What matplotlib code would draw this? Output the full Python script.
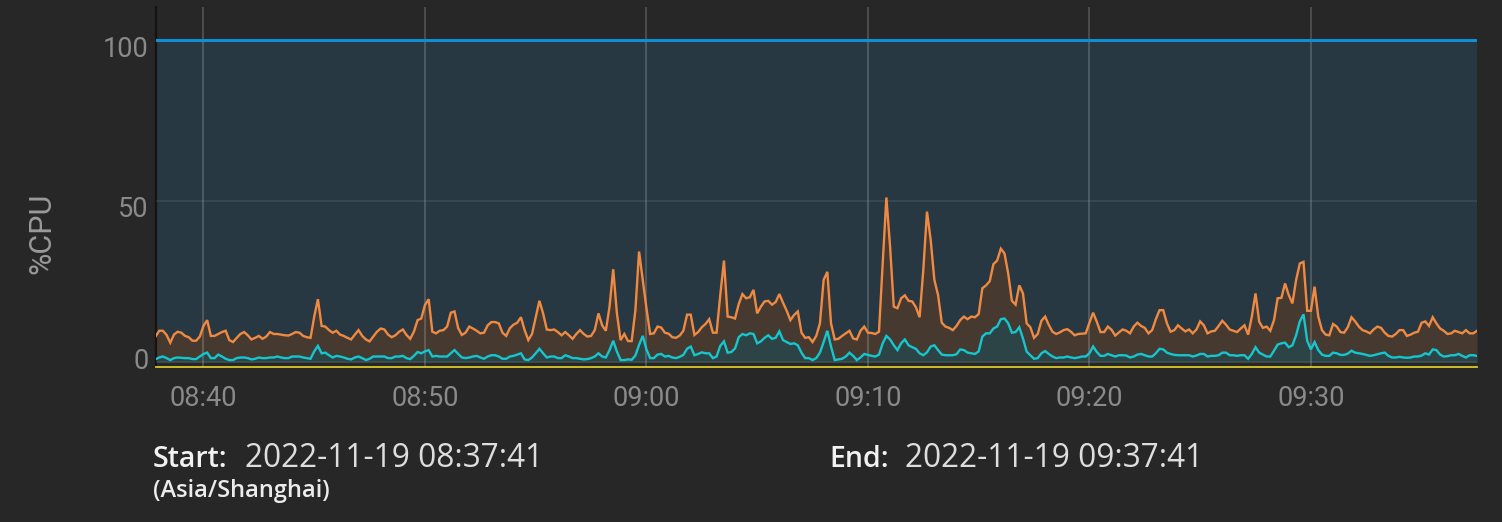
import numpy as np
import pandas as pd
import matplotlib
matplotlib.use("Agg")
import matplotlib.pyplot as plt
import matplotlib.dates as mdates
import matplotlib.transforms as mtransforms

# ---------------- data ----------------
start_time = "2022-11-19 08:37:50"
sample_step = "10s"

orange_cpu = [
    7.9, 9.7, 9.7, 8.4, 6.0, 8.5, 9.4, 9.1, 8.1, 7.7,
    6.6, 6.6, 7.9, 11.2, 13.0, 8.1, 8.1, 8.7, 9.3, 9.7,
    6.8, 6.2, 7.5, 8.7, 9.3, 8.3, 7.0, 7.5, 8.1, 7.2,
    7.9, 9.3, 8.7, 8.7, 8.5, 8.3, 8.2, 8.7, 9.3, 9.1,
    8.1, 7.7, 7.5, 14.1, 19.5, 11.2, 11.0, 9.9, 9.1, 9.7,
    8.5, 8.1, 7.5, 7.0, 8.5, 9.9, 8.1, 7.0, 6.4, 7.9,
    9.4, 10.4, 10.1, 8.5, 7.7, 8.3, 9.4, 10.1, 8.4, 7.2,
    9.4, 13.0, 13.5, 17.7, 19.5, 9.4, 8.9, 9.7, 9.9, 11.0,
    15.3, 15.7, 10.5, 8.4, 9.1, 11.0, 10.4, 9.7, 8.9, 9.1,
    11.4, 12.4, 12.4, 12.0, 9.1, 8.1, 10.5, 11.6, 12.2, 13.9,
    9.9, 6.8, 8.7, 13.9, 19.0, 15.1, 10.1, 9.9, 10.1, 9.3,
    8.3, 9.3, 8.3, 7.2, 8.7, 9.9, 8.7, 7.9, 8.1, 9.9,
    15.1, 11.4, 9.7, 17.2, 28.8, 15.1, 6.8, 8.7, 6.5, 6.5,
    16.0, 34.3, 25.5, 16.7, 8.7, 8.9, 11.0, 10.7, 9.1, 8.8,
    7.7, 7.5, 8.2, 9.7, 14.7, 14.7, 8.4, 9.3, 10.8, 11.8,
    13.3, 9.1, 9.1, 20.8, 31.5, 14.1, 13.9, 13.5, 18.0, 21.1,
    19.8, 20.1, 22.4, 15.1, 17.2, 18.8, 19.0, 17.8, 18.6, 21.1,
    18.4, 15.9, 13.0, 14.6, 15.7, 9.1, 7.5, 7.7, 6.2, 8.1,
    12.0, 25.5, 28.0, 12.0, 7.0, 7.2, 8.1, 8.9, 9.7, 7.3,
    7.0, 9.7, 11.0, 9.1, 9.0, 8.7, 9.4, 30.6, 51.1, 35.8,
    17.2, 16.7, 19.8, 20.7, 19.0, 18.8, 17.0, 13.9, 28.6, 46.7,
    37.9, 25.5, 20.8, 12.2, 11.0, 10.6, 9.9, 11.2, 13.0, 14.1,
    13.3, 14.1, 13.9, 14.9, 22.9, 23.8, 25.1, 30.4, 31.5, 35.2,
    33.7, 27.5, 19.0, 17.8, 23.8, 21.3, 12.0, 10.8, 7.5, 8.7,
    12.8, 14.1, 11.5, 9.4, 8.7, 9.2, 9.9, 10.2, 9.4, 8.3,
    8.7, 8.8, 8.9, 12.2, 15.3, 12.5, 9.3, 9.3, 11.0, 10.0,
    8.2, 9.2, 10.1, 9.7, 8.9, 11.0, 12.2, 11.2, 10.6, 8.9,
    9.9, 13.3, 16.1, 16.1, 12.0, 9.4, 9.9, 11.4, 10.4, 9.5,
    10.1, 8.9, 10.1, 12.6, 11.4, 8.9, 9.5, 9.7, 11.2, 12.8,
    11.6, 10.1, 9.7, 9.3, 10.4, 11.4, 8.5, 14.1, 21.3, 12.5,
    10.6, 11.0, 9.7, 13.0, 19.8, 19.9, 24.4, 20.8, 18.2, 25.5,
    30.6, 31.1, 15.9, 15.9, 23.4, 14.1, 9.9, 8.5, 8.3, 11.8,
    11.0, 9.3, 9.1, 10.8, 13.9, 12.6, 11.0, 9.9, 9.5, 8.9,
    10.1, 11.0, 10.6, 9.1, 8.1, 7.9, 8.7, 9.9, 9.9, 8.1,
    8.5, 9.1, 9.4, 12.2, 12.6, 11.2, 13.9, 12.0, 10.4, 9.7,
    8.7, 8.9, 9.7, 9.3, 8.9, 9.9, 8.9, 8.9, 9.7,
]

cyan_cpu = [
    0.8, 1.4, 1.7, 1.2, 0.6, 1.2, 1.4, 1.3, 1.2, 1.2,
    0.9, 0.9, 1.7, 2.5, 2.9, 1.2, 1.2, 2.3, 1.7, 1.0,
    0.6, 0.6, 1.2, 1.4, 1.4, 1.2, 0.8, 1.0, 1.4, 1.2,
    1.2, 1.4, 1.4, 1.7, 1.4, 1.2, 1.2, 1.7, 1.7, 1.7,
    1.4, 1.2, 1.0, 3.3, 5.0, 2.7, 2.9, 2.1, 1.4, 1.9,
    1.7, 1.4, 1.0, 0.8, 1.4, 1.7, 1.2, 0.6, 1.0, 1.7,
    1.7, 1.7, 1.7, 1.2, 1.2, 1.7, 1.7, 1.9, 1.2, 0.9,
    1.9, 3.1, 2.7, 3.3, 3.7, 1.7, 1.9, 1.7, 1.7, 1.7,
    2.7, 3.7, 2.5, 1.4, 1.2, 1.4, 1.7, 1.9, 1.4, 1.0,
    1.7, 2.1, 2.1, 1.7, 1.0, 1.0, 1.7, 1.9, 2.3, 2.7,
    0.8, 0.6, 1.4, 2.7, 4.1, 2.7, 1.4, 1.7, 1.7, 1.2,
    1.2, 2.1, 1.7, 1.2, 1.2, 1.0, 0.8, 0.9, 1.2, 1.7,
    2.7, 1.7, 1.4, 3.7, 6.6, 3.2, 0.6, 0.6, 0.8, 0.7,
    2.0, 5.3, 8.1, 3.9, 1.2, 1.2, 2.3, 2.5, 1.7, 1.9,
    1.4, 1.2, 1.6, 2.2, 4.1, 4.8, 2.1, 2.5, 3.0, 2.7,
    2.7, 1.2, 1.7, 5.0, 6.4, 2.9, 3.1, 4.2, 7.7, 8.7,
    8.3, 8.9, 8.7, 5.8, 6.4, 7.5, 8.3, 7.2, 7.5, 9.5,
    6.8, 6.2, 5.6, 5.8, 5.2, 2.9, 1.2, 1.2, 0.6, 1.2,
    2.9, 6.2, 9.7, 4.8, 0.6, 0.8, 1.0, 1.7, 2.9, 1.9,
    0.6, 1.4, 2.5, 2.2, 1.9, 1.7, 2.3, 5.8, 8.1, 7.0,
    5.2, 3.7, 5.8, 7.0, 5.2, 4.6, 4.1, 2.7, 2.1, 3.0,
    4.8, 5.2, 3.7, 2.3, 2.1, 2.1, 2.1, 2.4, 3.9, 3.7,
    2.9, 2.7, 2.5, 3.3, 7.9, 8.9, 8.9, 10.4, 11.0, 13.3,
    13.5, 12.0, 9.1, 9.3, 10.8, 7.3, 3.2, 2.1, 1.0, 1.2,
    2.7, 3.4, 2.5, 1.7, 1.2, 1.4, 1.4, 1.7, 1.4, 1.2,
    1.4, 1.7, 1.7, 2.7, 4.8, 3.1, 1.9, 1.9, 2.5, 2.1,
    1.7, 2.1, 2.1, 2.0, 1.4, 1.7, 2.3, 2.5, 2.1, 1.7,
    1.7, 2.7, 4.1, 3.9, 2.9, 2.5, 2.2, 2.1, 2.1, 2.1,
    2.1, 1.7, 2.0, 2.5, 2.5, 1.7, 1.9, 1.9, 2.1, 2.9,
    2.9, 2.1, 2.1, 1.9, 2.1, 2.1, 1.0, 2.5, 4.6, 2.9,
    2.3, 1.7, 1.7, 3.5, 5.4, 5.8, 6.0, 4.6, 5.2, 8.3,
    12.6, 14.8, 6.6, 3.9, 6.2, 3.7, 2.3, 1.9, 1.9, 2.9,
    2.7, 2.2, 2.2, 2.6, 3.5, 2.9, 2.7, 2.5, 2.2, 1.9,
    2.1, 2.4, 2.7, 2.9, 1.9, 1.4, 1.4, 1.6, 1.4, 1.3,
    1.4, 1.7, 1.7, 2.0, 2.7, 2.3, 3.9, 3.7, 2.3, 1.7,
    1.8, 2.1, 2.1, 2.5, 1.9, 1.4, 2.1, 2.1, 1.9,
]

capacity_pct = 100.0
y_ticks = [0, 50, 100]
start_label = "2022-11-19 08:37:41"
end_label = "2022-11-19 09:37:41"
tz_label = "(Asia/Shanghai)"
y_label = "%CPU"

# ---------------- figure ----------------
BG = "#272727"
PLOT_BG = "#283842"
W, H = 1502, 522
fig = plt.figure(figsize=(W / 100, H / 100), dpi=100, facecolor=BG)

def fx(px):
    return px / W

def fy(py):
    return 1 - py / H

ax_left, ax_right, ax_top, ax_bot = 155.5, 1477, 7, 366.5
ax = fig.add_axes([fx(ax_left), fy(ax_bot), fx(ax_right - ax_left), (ax_bot - ax_top) / H])
ax.set_facecolor(BG)

times = pd.date_range(start_time, periods=len(orange_cpu), freq=sample_step)
orange = np.array(orange_cpu)
cyan = np.array(cyan_cpu)
capacity = np.full(len(times), capacity_pct)

ax.fill_between(times, 0, capacity, color=PLOT_BG, lw=0, zorder=1)
ax.fill_between(times, 0, orange, color="#463a30", lw=0, zorder=1.2)
ax.fill_between(times, 0, cyan, color="#2c4446", lw=0, zorder=1.4)
ax.plot(times, capacity, color="#0f8fd6", lw=2.2, zorder=3)
ax.plot(times, orange, color="#f08a42", lw=1.7, zorder=3, solid_joinstyle="miter")
ax.plot(times, cyan, color="#16c6cf", lw=1.7, zorder=3, solid_joinstyle="miter")

ax.set_xlim(times[0], times[-1])
ax.set_ylim(-1.4, 110.25)

ax.xaxis.set_major_locator(mdates.MinuteLocator(byminute=range(0, 60, 10)))
ax.xaxis.set_major_formatter(mdates.DateFormatter("%H:%M"))
ax.set_yticks(y_ticks)
ax.set_yticklabels([])

ax.set_axisbelow(False)
ax.xaxis.grid(True, color="white", alpha=0.17, lw=1.5, zorder=2)
ax.yaxis.grid(True, color="white", alpha=0.07, lw=1.5, zorder=2)

ax.tick_params(axis="both", length=0)
ax.tick_params(axis="x", pad=13, labelsize=19.5, labelcolor="#8a8a8a")
for lab in ax.get_xticklabels():
    lab.set_fontfamily("Roboto")

for s in ["top", "right"]:
    ax.spines[s].set_visible(False)
ax.spines["left"].set_color("#141414")
ax.spines["left"].set_linewidth(1.6)
ax.spines["bottom"].set_color("#d8c82a")
ax.spines["bottom"].set_linewidth(1.3)

# y tick labels (labels hang just below their gridline)
blend = mtransforms.blended_transform_factory(ax.transAxes, ax.transData)
for v in y_ticks:
    off = 0 if v == 0 else -9
    tr = mtransforms.offset_copy(blend, fig=fig, x=-7, y=off, units="dots")
    ax.text(0, v, str(v), transform=tr, ha="right", va="center",
            fontsize=19.5, color="#8a8a8a", family="Roboto")

fig.text(fx(42), fy(233), y_label, rotation=90, ha="center", va="center",
         fontsize=22, color="#9a9a9a", family="Roboto")

# bottom info text
FONT = ["Open Sans", "DejaVu Sans"]
fig.text(fx(153), fy(467), "Start:", ha="left", va="baseline",
         fontsize=20.5, color="#f2f2f2", weight="semibold", family=FONT)
fig.text(fx(245), fy(467), start_label, ha="left", va="baseline",
         fontsize=22.8, color="#dedede", family=FONT)
fig.text(fx(153), fy(497), tz_label, ha="left", va="baseline",
         fontsize=17, color="#ececec", weight="semibold", family=FONT)
fig.text(fx(829), fy(467), "End:", ha="left", va="baseline",
         fontsize=20.5, color="#f2f2f2", weight="semibold", family=FONT)
fig.text(fx(905), fy(467), end_label, ha="left", va="baseline",
         fontsize=22.8, color="#dedede", family=FONT)

fig.savefig("out.png", dpi=100, facecolor=BG)
